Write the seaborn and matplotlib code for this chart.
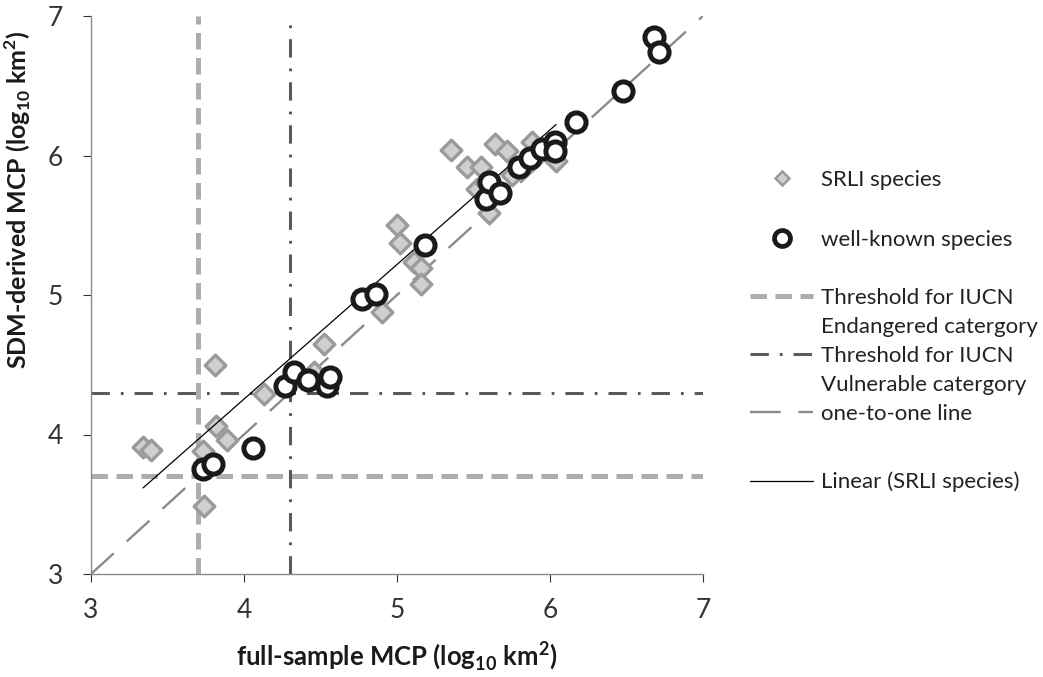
import numpy as np
import pandas as pd
import matplotlib
matplotlib.use("Agg")
import matplotlib.pyplot as plt
from matplotlib.lines import Line2D
import seaborn as sns

# SRLI species (full-sample MCP, SDM-derived MCP), log10 km2
srli_x = [3.34, 3.39, 3.73, 3.74, 3.81, 3.82, 3.89, 4.13, 4.46, 4.52, 4.90, 5.00, 5.02,
          5.11, 5.16, 5.16, 5.35, 5.46, 5.55, 5.52, 5.60, 5.64, 5.72, 5.75, 5.88, 6.04, 5.96, 5.58]
srli_y = [3.91, 3.89, 3.88, 3.49, 4.50, 4.06, 3.96, 4.29, 4.45, 4.65, 4.88, 5.50, 5.37,
          5.24, 5.19, 5.08, 6.04, 5.92, 5.92, 5.76, 5.59, 6.08, 6.03, 5.86, 6.10, 5.96, 6.05, 5.80]

# well-known species
wk_x = [3.73, 3.80, 4.06, 4.27, 4.33, 4.42, 4.54, 4.56, 4.77, 4.86, 5.18, 5.58, 5.60,
        5.67, 5.80, 5.87, 5.95, 6.03, 6.03, 6.17, 6.48, 6.68, 6.71]
wk_y = [3.75, 3.79, 3.90, 4.35, 4.45, 4.39, 4.35, 4.41, 4.97, 5.01, 5.36, 5.69, 5.81,
        5.73, 5.92, 5.98, 6.05, 6.10, 6.03, 6.24, 6.46, 6.85, 6.74]

en_threshold = 3.7
vu_threshold = 4.3
ticks = [3, 4, 5, 6, 7]

sns.set_style("white")
plt.rcParams['font.family'] = ['Lato', 'DejaVu Sans']
plt.rcParams['mathtext.fontset'] = 'custom'
plt.rcParams['mathtext.rm'] = 'Lato'
plt.rcParams['mathtext.bf'] = 'Lato:bold'

W, H = 1043, 677
fig = plt.figure(figsize=(W/100, H/100), dpi=100)
ax = fig.add_axes([91/W, 1-574/H, 612/W, 558/H])

srli = pd.DataFrame({"x": srli_x, "y": srli_y})
wk = pd.DataFrame({"x": wk_x, "y": wk_y})

# threshold lines
en_kw = dict(color="#adadad", lw=3.6, ls=(0, (3.3, 1.7)), zorder=1)
vu_kw = dict(color="#5a5a5a", lw=2.2, ls=(0, (6, 3.6, 0.9, 3.6)), zorder=1)
ax.axvline(en_threshold, **en_kw)
ax.axhline(en_threshold, **en_kw)
ax.axvline(vu_threshold, **vu_kw)
ax.axhline(vu_threshold, **vu_kw)

# one-to-one line
one_kw = dict(color="#8a8a8a", lw=1.7, ls=(0, (13, 7.5)), zorder=1)
ax.plot(ticks, ticks, **one_kw)

sns.scatterplot(data=srli, x="x", y="y", marker="D", s=110, color="#cfcfcf",
                edgecolor="#9a9a9a", linewidth=2.4, ax=ax, zorder=3)
sns.regplot(data=srli, x="x", y="y", scatter=False, ci=None, truncate=True,
            line_kws=dict(color="black", lw=0.9, zorder=4), ax=ax)
sns.scatterplot(data=wk, x="x", y="y", marker="o", s=190, color="white",
                edgecolor="#1a1a1a", linewidth=3.6, ax=ax, zorder=5)

ax.set_xlim(3, 7)
ax.set_ylim(3, 7)
ax.set_xticks(ticks)
ax.set_yticks(ticks)
ax.tick_params(axis="both", labelsize=19, colors="#333333", length=6, width=0.8,
               direction="out", bottom=True, left=True)
ax.tick_params(axis="x", pad=11)
ax.tick_params(axis="y", pad=14)
for s in ["top", "right"]:
    ax.spines[s].set_visible(False)
for s in ["left", "bottom"]:
    ax.spines[s].set_color("#8a8a8a")
    ax.spines[s].set_linewidth(1.0)

ax.set_xlabel(r"full-sample MCP (log$_{\mathbf{10}}$ km$^{\mathbf{2}}$)", fontsize=18.5,
              fontweight="bold", color="#1a1a1a")
ax.xaxis.set_label_coords(0.5, -(640-574)/558)
ax.set_ylabel(r"SDM-derived MCP (log$_{\mathbf{10}}$ km$^{\mathbf{2}}$)", fontsize=18,
              fontweight="bold", color="#1a1a1a")
ax.yaxis.set_label_coords((33-91)/612, (574-200)/558)

def pt(v):
    return Line2D([], [], **{k: val for k, val in v.items() if k != "zorder"})

h_srli = Line2D([], [], ls="none", marker="D", markersize=7.5, markerfacecolor="#cfcfcf",
                markeredgecolor="#9a9a9a", markeredgewidth=1.8)
h_wk = Line2D([], [], ls="none", marker="o", markersize=11.5, markerfacecolor="white",
              markeredgecolor="#1a1a1a", markeredgewidth=3.4)
h_en, h_vu, h_one = pt(en_kw), pt(vu_kw), pt(one_kw)
h_blank = Line2D([], [], ls="none")
h_lin = Line2D([], [], color="black", lw=0.9)

leg_kw = dict(loc="center left", frameon=False, fontsize=16, handlelength=2.85,
              handletextpad=0.35, borderpad=0, borderaxespad=0, labelcolor="#222222")

legA = fig.legend([h_srli, h_wk], ["SRLI species", "well-known species"],
                  bbox_to_anchor=(750/W, 1-210/H), labelspacing=1.8, **leg_kw)
legB = fig.legend([h_en, h_blank, h_vu, h_blank, h_one],
                  ["Threshold for IUCN", "Endangered catergory",
                   "Threshold for IUCN", "Vulnerable catergory",
                   "one-to-one line"],
                  bbox_to_anchor=(750/W, 1-356/H), labelspacing=0.4, **leg_kw)
legC = fig.legend([h_lin], ["Linear (SRLI species)"],
                  bbox_to_anchor=(750/W, 1-482/H), **leg_kw)

fig.savefig("out.png", dpi=100)
